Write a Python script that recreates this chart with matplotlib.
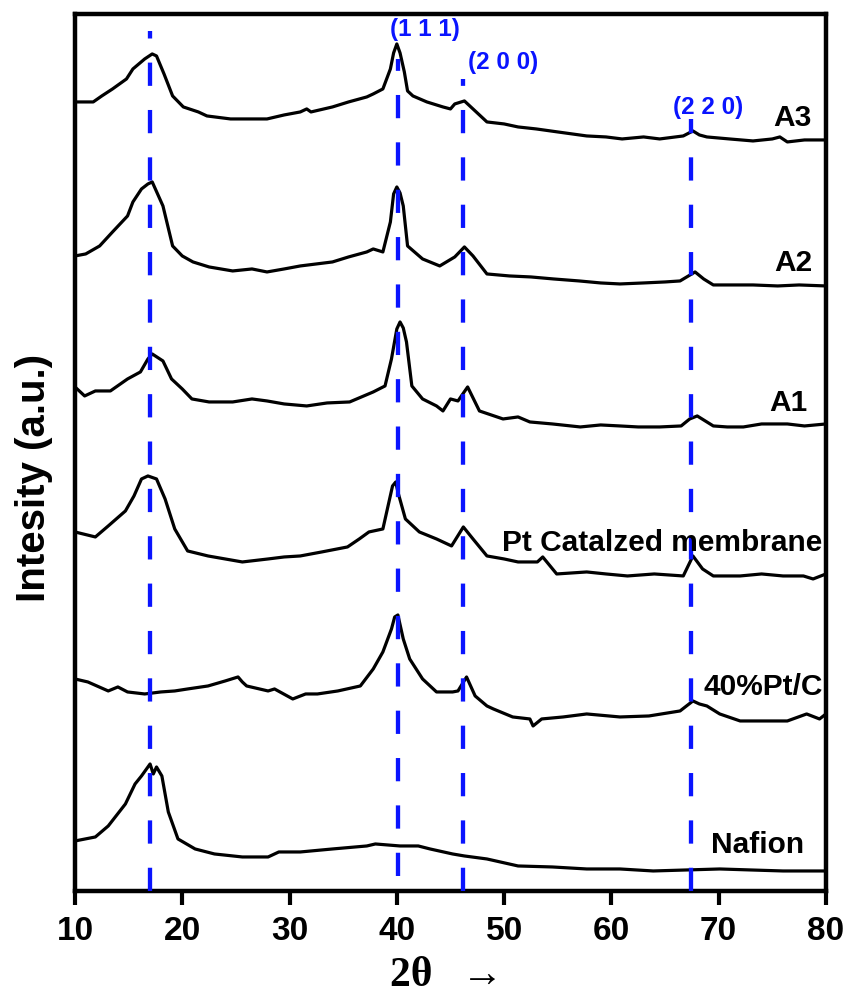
import matplotlib
matplotlib.use("Agg")
import matplotlib.pyplot as plt

plt.rcParams["font.family"] = ["Liberation Sans", "DejaVu Sans"]

# stacked XRD patterns (2theta, intensity in a.u. incl. offset)
a3_tt = [10.0, 11.7, 12.5, 13.5, 14.8, 15.4, 16.5, 17.2, 17.6, 18.3, 19.1, 20.1, 21.5, 22.3, 24.5,
         26.3, 27.9, 29.5, 31.0, 31.6, 32.0, 34.0, 35.5, 37.2, 37.8, 38.7, 39.4, 39.7, 40.0, 40.3,
         40.7, 41.0, 41.5, 42.8, 44.3, 45.0, 45.4, 46.3, 47.1, 48.4, 50.0, 51.3, 53.0, 55.0, 57.7,
         59.5, 61.0, 63.0, 64.5, 66.7, 67.6, 68.2, 68.9, 71.0, 73.2, 75.0, 75.7, 76.4, 78.0, 80.0]
a3_int = [789, 789, 795, 802, 812, 822, 832, 837, 835, 817, 795, 784, 779, 775, 772,
          772, 772, 776, 779, 782, 779, 784, 789, 794, 797, 802, 822, 838, 847, 838,
          819, 800, 795, 789, 784, 782, 787, 790, 782, 769, 767, 764, 762, 759, 755,
          754, 752, 754, 752, 755, 760, 756, 754, 752, 750, 752, 754, 749, 751, 751]

a2_tt = [10.0, 11.0, 12.3, 13.5, 14.9, 15.4, 16.2, 16.8, 17.2, 18.2, 19.1, 20.0, 21.0, 22.5, 24.7,
         26.5, 27.9, 29.5, 31.0, 32.5, 34.0, 35.5, 37.2, 37.8, 38.7, 39.4, 39.7, 40.0, 40.3, 40.6,
         41.0, 42.4, 44.0, 45.4, 46.3, 47.1, 48.4, 50.5, 52.5, 54.6, 57.0, 59.0, 60.8, 63.0, 65.0,
         66.4, 67.8, 68.6, 69.5, 71.5, 73.2, 75.5, 77.5, 80.0]
a2_int = [635, 637, 645, 659, 675, 689, 702, 707, 709, 685, 645, 635, 629, 624, 620,
          622, 619, 622, 625, 627, 629, 634, 639, 642, 639, 669, 697, 704, 698, 685,
          645, 632, 625, 634, 644, 635, 617, 615, 614, 612, 610, 608, 607, 608, 609,
          610, 619, 612, 606, 606, 606, 605, 606, 605]

a1_tt = [10.0, 10.9, 11.9, 13.3, 14.9, 16.1, 16.8, 17.2, 18.2, 19.0, 20.0, 20.9, 22.5, 24.7, 26.5,
         27.9, 29.5, 31.6, 33.5, 35.6, 37.8, 38.9, 39.5, 40.0, 40.3, 40.6, 40.9, 41.4, 42.4, 43.7,
         44.3, 45.0, 45.7, 46.6, 47.7, 49.9, 51.3, 52.4, 54.5, 57.1, 59.0, 60.8, 62.5, 64.5, 66.5,
         67.3, 68.0, 69.5, 70.8, 72.3, 74.0, 76.4, 78.0, 80.0]
a1_int = [504, 495, 500, 500, 512, 519, 532, 537, 530, 512, 502, 492, 489, 489, 492,
          490, 487, 485, 488, 489, 499, 505, 532, 562, 569, 563, 549, 505, 492, 485,
          480, 492, 490, 504, 480, 472, 474, 469, 467, 464, 466, 465, 464, 464, 465,
          472, 475, 465, 464, 464, 467, 467, 465, 467]

ptm_tt = [10.0, 11.9, 13.1, 14.7, 15.5, 16.2, 16.8, 17.6, 18.4, 19.3, 20.5, 22.4, 24.0, 25.6, 28.0,
          29.5, 31.0, 33.0, 35.4, 36.5, 37.4, 38.7, 39.6, 39.9, 40.1, 40.8, 42.1, 43.7, 45.1, 46.2,
          47.1, 48.4, 50.0, 51.3, 53.1, 53.6, 54.9, 57.7, 59.5, 61.5, 64.0, 66.7, 67.6, 68.5, 69.5,
          72.0, 74.0, 76.0, 77.9, 78.8, 80.0]
ptm_int = [359, 354, 365, 380, 395, 412, 415, 412, 392, 362, 340, 335, 332, 329, 332,
           334, 335, 339, 344, 352, 359, 362, 405, 409, 399, 372, 359, 352, 345, 364,
           352, 335, 332, 329, 329, 334, 317, 319, 317, 315, 317, 315, 335, 322, 315,
           315, 317, 315, 315, 312, 317]

ptc_tt = [10.0, 11.2, 13.1, 14.0, 14.9, 16.5, 18.0, 19.3, 20.5, 22.4, 24.0, 25.2, 25.6, 26.0, 28.0,
          28.6, 30.3, 31.5, 32.6, 34.5, 36.6, 37.8, 38.7, 39.5, 39.8, 40.1, 40.6, 41.2, 42.4, 43.7,
          45.2, 45.7, 46.5, 47.3, 48.4, 49.0, 50.8, 52.4, 52.7, 53.5, 55.5, 57.7, 60.8, 63.5, 66.4,
          67.6, 68.2, 68.9, 70.1, 72.0, 74.0, 76.4, 78.2, 79.4, 80.0]
ptc_int = [212, 209, 200, 204, 199, 197, 199, 200, 202, 205, 210, 214, 209, 205, 200,
           202, 192, 197, 197, 200, 205, 222, 239, 262, 274, 276, 252, 232, 212, 199,
           199, 200, 214, 195, 185, 182, 174, 172, 165, 172, 174, 177, 174, 175, 180,
           190, 187, 185, 177, 170, 170, 170, 177, 172, 177]

naf_tt = [10.0, 11.9, 13.1, 14.7, 15.6, 16.2, 17.0, 17.3, 17.6, 18.1, 18.7, 19.6, 21.2, 23.0, 25.6,
          28.0, 29.0, 31.0, 34.0, 37.2, 38.0, 40.3, 42.0, 43.1, 45.2, 46.3, 48.4, 51.3, 54.5, 57.7,
          60.8, 63.9, 67.0, 70.1, 73.0, 76.0, 80.0]
naf_int = [50, 54, 65, 87, 107, 115, 127, 117, 124, 115, 79, 52, 42, 37, 34,
           34, 39, 39, 42, 45, 47, 45, 45, 42, 37, 35, 32, 25, 24, 22,
           22, 20, 21, 22, 21, 20, 20]

curves = [(a3_tt, a3_int), (a2_tt, a2_int), (a1_tt, a1_int),
          (ptm_tt, ptm_int), (ptc_tt, ptc_int), (naf_tt, naf_int)]

sample_names = ["A3", "A2", "A1", "Pt Catalzed membrane", "40%Pt/C", "Nafion"]
name_x = [78.7, 78.7, 78.3, 79.7, 79.7, 78.0]
name_y = [774, 629, 489, 349, 205, 47]

# Pt reflections
peak_pos = [17.0, 40.1, 46.2, 67.4]
peak_top = [860, 832, 812, 772]
peak_bottom = [0, 15, 0, 0]
hkl_labels = ["(1 1 1)", "(2 0 0)", "(2 2 0)"]
hkl_x = [42.6, 49.9, 69.0]
hkl_y = [862, 829, 784]

xticks = [10, 20, 30, 40, 50, 60, 70, 80]


def plot_xrd():
    fig = plt.figure(figsize=(8.53, 10.03), dpi=100)
    ax = fig.add_axes([0.0879, 0.1107, 0.8804, 0.8744])

    for x, y in curves:
        ax.plot(x, y, color="black", lw=2.3, zorder=2,
                solid_joinstyle="round", solid_capstyle="round")

    for x, y0, y1 in zip(peak_pos, peak_bottom, peak_top):
        ax.plot([x, x], [y0, y1], color="#0a14ff", lw=3.1,
                ls=(0, (5.4, 5.6)), zorder=3)

    for name, x, y in zip(sample_names, name_x, name_y):
        ax.text(x, y, name, ha="right", va="center", fontsize=21.5,
                fontweight="bold", zorder=4)

    for lab, x, y in zip(hkl_labels, hkl_x, hkl_y):
        ax.text(x, y, lab, ha="center", va="center", fontsize=17.5,
                fontweight="bold", color="#0a14ff")

    ax.set_xlim(10, 80)
    ax.set_ylim(0, 877)
    ax.set_xticks(xticks)
    ax.set_yticks([])
    ax.tick_params(axis="x", direction="out", length=10, width=3, pad=7,
                   labelsize=24)
    for lab in ax.get_xticklabels():
        lab.set_fontweight("bold")
    for sp in ax.spines.values():
        sp.set_linewidth(3.2)

    ax.set_ylabel("Intesity (a.u.)", fontsize=29, fontweight="bold")
    ax.yaxis.set_label_coords(-0.029, 0.472)
    ax.set_xlabel("2θ  \u2009→", fontsize=30, fontweight="bold",
                  family=["Liberation Serif", "DejaVu Serif"])
    ax.xaxis.set_label_coords(0.495, -0.074)

    fig.savefig("out.png", dpi=100)


if __name__ == "__main__":
    plot_xrd()
